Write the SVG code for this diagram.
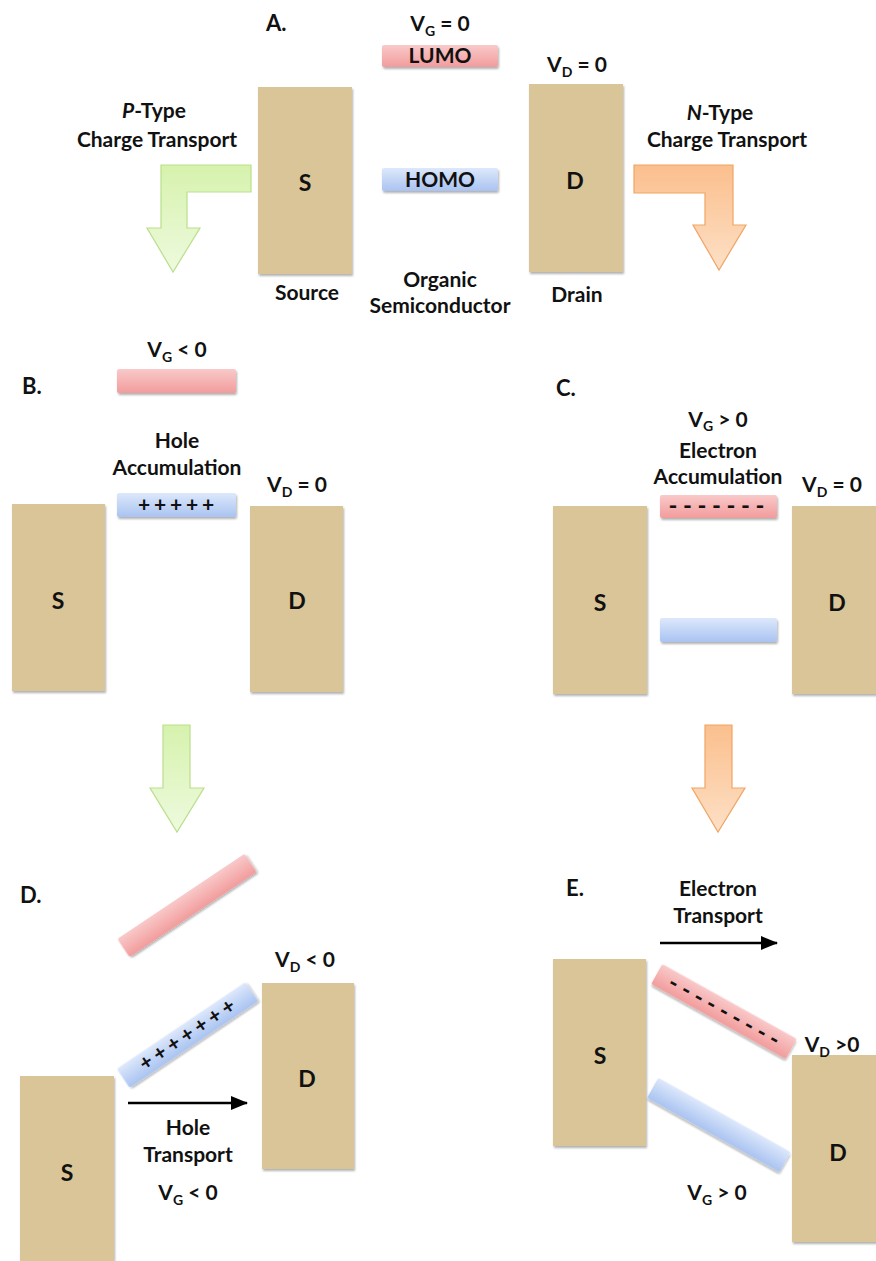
<svg xmlns="http://www.w3.org/2000/svg" width="876" height="1261" viewBox="0 0 876 1261">
  <defs>
    <linearGradient id="gPink" x1="0" y1="0" x2="0" y2="1">
      <stop offset="0" stop-color="#f9c9c9"/>
      <stop offset="1" stop-color="#f29c9c"/>
    </linearGradient>
    <linearGradient id="gBlue" x1="0" y1="0" x2="0" y2="1">
      <stop offset="0" stop-color="#dde8fb"/>
      <stop offset="1" stop-color="#a9c3f1"/>
    </linearGradient>
    <linearGradient id="gGreen" x1="0" y1="0" x2="0" y2="1">
      <stop offset="0" stop-color="#d6f2ad"/>
      <stop offset="1" stop-color="#eefade"/>
    </linearGradient>
    <linearGradient id="gOrange" x1="0" y1="0" x2="0" y2="1">
      <stop offset="0" stop-color="#fbbf8d"/>
      <stop offset="1" stop-color="#fde0c6"/>
    </linearGradient>
    <filter id="shadow" x="-10%" y="-10%" width="125%" height="125%">
      <feDropShadow dx="1" dy="2" stdDeviation="1.2" flood-color="#000" flood-opacity="0.3"/>
    </filter>
    <marker id="head" viewBox="0 0 17 14" refX="16" refY="7" markerWidth="17" markerHeight="14" markerUnits="userSpaceOnUse" orient="auto">
      <path d="M0,0 L17,7 L0,14 Z" fill="#000"/>
    </marker>
    <style>
      text { font-family: Lato, "Open Sans", "Liberation Sans", sans-serif; font-weight: bold; font-size: 21px; fill: #111; text-anchor: middle; }
      .lbl { text-anchor: start; font-size: 22px; }
      .big { font-size: 23px; }
      .sub { font-size: 14px; }
      .plus { font-size: 21px; }
      .dash { font-size: 24px; }
      .metal { fill: #d9c597; filter: url(#shadow); }
      .lumo { fill: url(#gPink); filter: url(#shadow); }
      .homo { fill: url(#gBlue); filter: url(#shadow); }
      .pArrow { fill: url(#gGreen); stroke: #b9df8c; stroke-width: 1.2; }
      .nArrow { fill: url(#gOrange); stroke: #f0a565; stroke-width: 1.2; }
      .flow { stroke: #000; stroke-width: 2.5; fill: none; marker-end: url(#head); }
    </style>
  </defs>

  <rect width="876" height="1261" fill="#fff"/>

  <!-- Panel A: equilibrium, V_G = 0 -->
  <g id="panelA">
    <text class="lbl" x="266" y="31">A.</text>
    <text x="440" y="31">V<tspan class="sub" dy="5">G</tspan><tspan dy="-5"> = 0</tspan></text>
    <g id="A-lumo">
      <rect class="lumo" x="382" y="45" width="116" height="22" rx="2"/>
      <text x="440" y="63">LUMO</text>
    </g>
    <g id="A-homo">
      <rect class="homo" x="382" y="168" width="116" height="23" rx="2"/>
      <text x="440" y="187">HOMO</text>
    </g>
    <g id="A-source">
      <rect class="metal" x="258" y="87" width="94" height="187"/>
      <text class="big" x="305" y="191">S</text>
      <text x="307" y="300">Source</text>
    </g>
    <g id="A-drain">
      <rect class="metal" x="529" y="84" width="94" height="188"/>
      <text class="big" x="575" y="189">D</text>
      <text x="577" y="302">Drain</text>
      <text x="577" y="72">V<tspan class="sub" dy="5">D</tspan><tspan dy="-5"> = 0</tspan></text>
    </g>
    <text x="440" y="287">Organic</text>
    <text x="440" y="313">Semiconductor</text>
    <text x="154" y="118"><tspan font-style="italic">P</tspan>-Type</text>
    <text x="157" y="147">Charge Transport</text>
    <text x="720" y="120"><tspan font-style="italic">N</tspan>-Type</text>
    <text x="727" y="147">Charge Transport</text>
  </g>

  <!-- Panel B: hole accumulation, V_G < 0 -->
  <g id="panelB">
    <text class="lbl" x="22" y="394">B.</text>
    <text x="177" y="357">V<tspan class="sub" dy="5">G</tspan><tspan dy="-5"> &lt; 0</tspan></text>
    <g id="B-lumo">
      <rect class="lumo" x="117" y="369" width="119" height="24" rx="2"/>
    </g>
    <text x="177" y="448">Hole</text>
    <text x="177" y="475">Accumulation</text>
    <g id="B-homo">
      <rect class="homo" x="117" y="493" width="119" height="24" rx="2"/>
      <text class="plus" x="144 160 176 192 208" y="512">+++++</text>
    </g>
    <g id="B-source">
      <rect class="metal" x="12" y="504" width="93" height="187"/>
      <text class="big" x="58" y="609">S</text>
    </g>
    <g id="B-drain">
      <rect class="metal" x="250" y="506" width="93" height="186"/>
      <text class="big" x="297" y="609">D</text>
      <text x="297" y="492">V<tspan class="sub" dy="5">D</tspan><tspan dy="-5"> = 0</tspan></text>
    </g>
  </g>

  <!-- Panel C: electron accumulation, V_G > 0 -->
  <g id="panelC">
    <text class="lbl" x="556" y="396">C.</text>
    <text x="718" y="427">V<tspan class="sub" dy="4">G</tspan><tspan dy="-4"> &gt; 0</tspan></text>
    <text x="718" y="458">Electron</text>
    <text x="718" y="484">Accumulation</text>
    <g id="C-lumo">
      <rect class="lumo" x="660" y="495" width="117" height="23" rx="2"/>
      <text class="dash" x="673 687.5 702 716.5 731 745.5 760" y="514">-------</text>
    </g>
    <g id="C-homo">
      <rect class="homo" x="660" y="618" width="117" height="24" rx="2"/>
    </g>
    <g id="C-source">
      <rect class="metal" x="553" y="506" width="94" height="188"/>
      <text class="big" x="600" y="611">S</text>
    </g>
    <g id="C-drain">
      <rect class="metal" x="792" y="506" width="100" height="188"/>
      <text class="big" x="837" y="611">D</text>
      <text x="832" y="492">V<tspan class="sub" dy="5">D</tspan><tspan dy="-5"> = 0</tspan></text>
    </g>
  </g>

  <!-- Panel D: hole transport, V_D < 0 -->
  <g id="panelD">
    <text class="lbl" x="20" y="903">D.</text>
    <g id="D-lumo" transform="translate(187 905.5) rotate(-33.8)">
      <rect class="lumo" x="-76.5" y="-11" width="153" height="22" rx="2"/>
    </g>
    <g id="D-homo" transform="translate(187.5 1035) rotate(-34)">
      <rect class="homo" x="-77.5" y="-11.5" width="155" height="23" rx="2"/>
      <text class="plus" x="-49.5 -33 -16.5 0 16.5 33 49.5" y="6.5">+++++++</text>
    </g>
    <g id="D-drain">
      <rect class="metal" x="262" y="983" width="92" height="186"/>
      <text class="big" x="307" y="1087">D</text>
      <text x="305" y="967">V<tspan class="sub" dy="5">D</tspan><tspan dy="-5"> &lt; 0</tspan></text>
    </g>
    <g id="D-source">
      <rect class="metal" x="20" y="1076" width="94" height="200"/>
      <text class="big" x="67" y="1181">S</text>
    </g>
    <text x="188" y="1135">Hole</text>
    <text x="188" y="1162">Transport</text>
    <text x="188" y="1200">V<tspan class="sub" dy="5">G</tspan><tspan dy="-5"> &lt; 0</tspan></text>
  </g>

  <!-- Panel E: electron transport, V_D > 0 -->
  <g id="panelE">
    <text class="lbl" x="566" y="896">E.</text>
    <text x="718" y="896">Electron</text>
    <text x="718" y="923">Transport</text>
    <g id="E-source">
      <rect class="metal" x="553" y="959" width="93" height="187"/>
      <text class="big" x="600" y="1064">S</text>
    </g>
    <g id="E-lumo" transform="translate(724 1011.5) rotate(29.1)">
      <rect class="lumo" x="-77" y="-11.5" width="154" height="23" rx="2"/>
      <text class="dash" x="-57.6 -43.2 -28.8 -14.4 0 14.4 28.8 43.2 57.6" y="7.5">---------</text>
    </g>
    <g id="E-homo" transform="translate(719 1125) rotate(29.3)">
      <rect class="homo" x="-76" y="-11.5" width="152" height="23" rx="2"/>
    </g>
    <g id="E-drain">
      <rect class="metal" x="792" y="1055" width="100" height="187"/>
      <text class="big" x="838" y="1161">D</text>
      <text x="832" y="1052">V<tspan class="sub" dy="5">D</tspan><tspan dy="-5"> &gt;0</tspan></text>
    </g>
    <text x="717" y="1200">V<tspan class="sub" dy="5">G</tspan><tspan dy="-5"> &gt; 0</tspan></text>
  </g>

  <!-- Connectors: transport-direction arrows -->
  <g id="connectors">
    <path class="pArrow" d="M161,165 H251 V192 H187 V228 H200 L173,272 L147,228 H161 Z"/>
    <path class="nArrow" d="M634,165 H733 V225 H746 L719,270 L693,225 H705 V193 H634 Z"/>
    <path class="pArrow" d="M163,725 H190 V788 H204 L177,832 L150,788 H163 Z"/>
    <path class="nArrow" d="M705,725 H732 V788 H745 L718,832 L692,788 H705 Z"/>
    <line class="flow" x1="128" y1="1103" x2="247" y2="1103"/>
    <line class="flow" x1="660" y1="943" x2="777" y2="943"/>
  </g>
</svg>
